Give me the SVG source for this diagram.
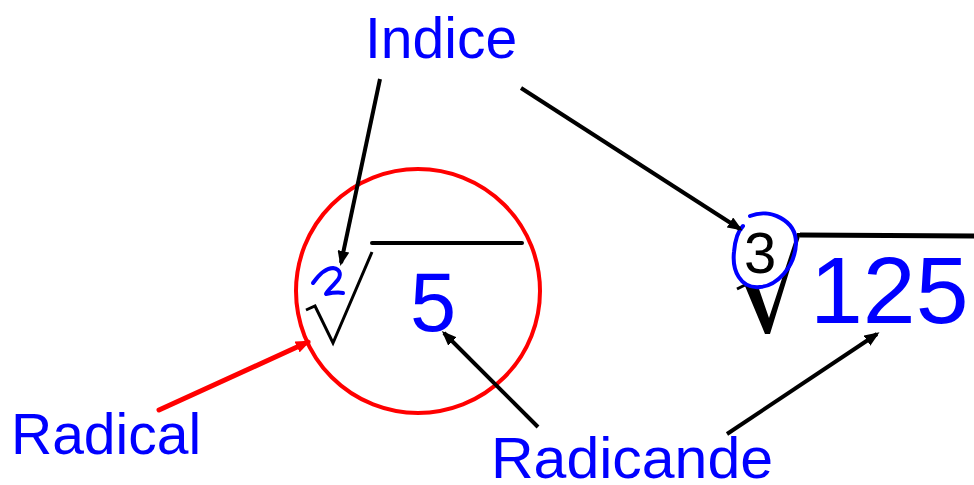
<svg xmlns="http://www.w3.org/2000/svg" width="974" height="485" viewBox="0 0 974 485">
<style>
.lbl{font-family:"Liberation Sans",Arial,sans-serif;fill:#0000ff}
.conn{stroke:#000;stroke-width:4;fill:none}
.red{stroke:#ff0000;stroke-width:5;fill:none}
.ink{stroke:#000;fill:none}
</style>
<defs>
<marker id="ah" markerUnits="userSpaceOnUse" markerWidth="16" markerHeight="12" refX="12" refY="6" orient="auto">
<path d="M0,0 L15,6 L0,12 z" fill="#000"/>
</marker>
<marker id="ahr" markerUnits="userSpaceOnUse" markerWidth="16" markerHeight="12" refX="12" refY="6" orient="auto">
<path d="M0,0 L15,6 L0,12 z" fill="#ff0000"/>
</marker>
</defs>
<rect width="974" height="485" fill="#fff"/>

<g id="radical-circle">
<circle cx="418" cy="291" r="122" stroke="#ff0000" stroke-width="4" fill="none"/>
</g>

<g id="small-root">
<polyline class="ink" stroke-width="3" points="306,310 315,306 333,343 372,252"/>
<line class="ink" stroke-width="4" x1="372" y1="243" x2="522" y2="243" stroke-linecap="round"/>
<path d="M313,283 C318,276 326,268 333,268 C341,269 342,276 336,282 C332,287 327,291 326,294 C331,293 338,292 343,293" stroke="#0000ff" stroke-width="4" fill="none" stroke-linecap="round" stroke-linejoin="round"/>
<text class="lbl" x="433" y="331" font-size="83" text-anchor="middle">5</text>
</g>

<g id="big-root">
<line class="ink" stroke-width="3" x1="737" y1="289" x2="747" y2="284"/>
<polygon points="745,286 758,286 769,318 797,233 801,233 770,334 765,334" fill="#000"/>
<line class="ink" stroke-width="5" x1="800" y1="235" x2="974" y2="236"/>
<text x="744" y="273" font-size="58" font-family="Liberation Sans,Arial,sans-serif" fill="#000">3</text>
<path d="M750,216 C770,208 796,220 796,243 C795,268 776,286 760,287 C740,289 732,270 734,252 C735,240 737,232 743,226" stroke="#0000ff" stroke-width="4" fill="none" stroke-linecap="round"/>
<text class="lbl" x="810" y="323" font-size="95">125</text>
</g>

<g id="label-indice"><text class="lbl" x="365" y="58" font-size="57">Indice</text></g>
<g id="label-radical"><text class="lbl" x="11" y="454" font-size="57">Radical</text></g>
<g id="label-radicande"><text class="lbl" x="491" y="478" font-size="57" textLength="282" lengthAdjust="spacingAndGlyphs">Radicande</text></g>

<g id="connectors">
<line class="conn" x1="380" y1="79" x2="341" y2="263" marker-end="url(#ah)"/>
<line class="conn" x1="521" y1="88" x2="740" y2="229" marker-end="url(#ah)"/>
<line class="conn" x1="538" y1="427" x2="444" y2="333" marker-end="url(#ah)"/>
<line class="conn" x1="727" y1="434" x2="877" y2="334" marker-end="url(#ah)"/>
<line class="red" x1="159" y1="410" x2="308" y2="342" stroke-linecap="round" marker-end="url(#ahr)"/>
</g>
</svg>
